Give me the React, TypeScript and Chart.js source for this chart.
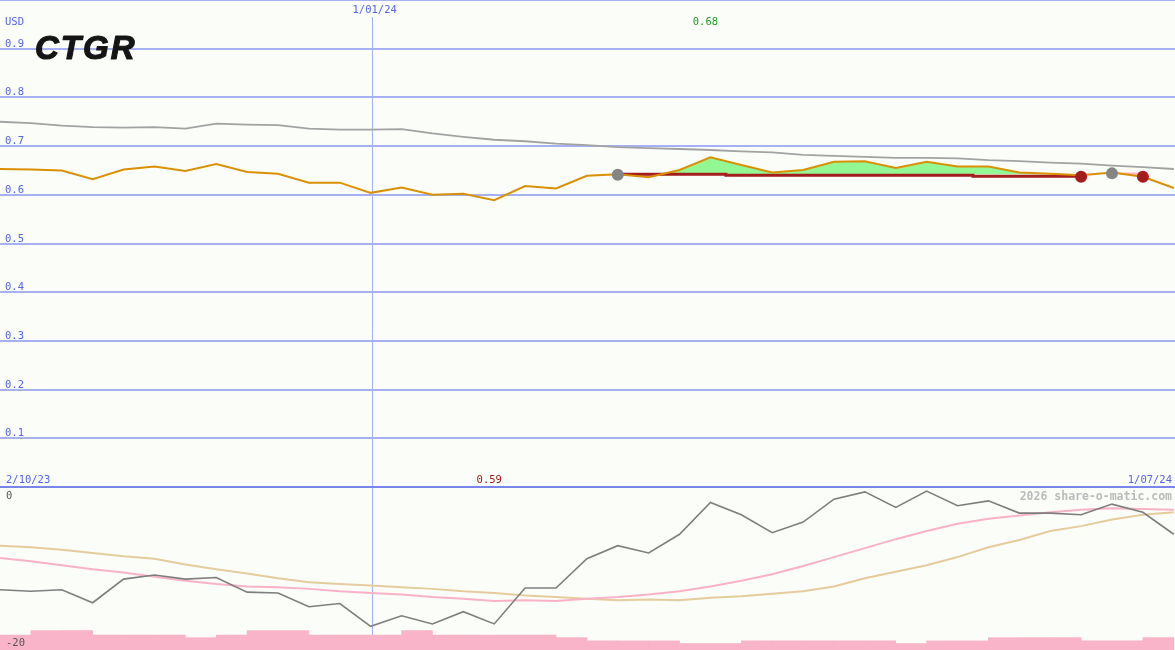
import React, { useEffect, useRef } from "react";
import { Chart, registerables } from "chart.js";

Chart.register(...registerables);

// ---------- data ----------
const price: number[] = [
  0.653, 0.652, 0.65, 0.632, 0.652, 0.658, 0.649, 0.663, 0.647, 0.643,
  0.625, 0.625, 0.604, 0.615, 0.6, 0.602, 0.589, 0.618, 0.613, 0.639,
  0.642, 0.636, 0.651, 0.677, 0.661, 0.646, 0.651, 0.668, 0.669, 0.655,
  0.668, 0.658, 0.658, 0.646, 0.643, 0.64, 0.646, 0.637, 0.614,
];
const priceAverage: number[] = [
  0.75, 0.747, 0.742, 0.739, 0.738, 0.739, 0.736, 0.746, 0.744, 0.743,
  0.736, 0.734, 0.734, 0.735, 0.726, 0.719, 0.713, 0.71, 0.705, 0.702,
  0.698, 0.696, 0.694, 0.692, 0.689, 0.687, 0.682, 0.68, 0.678, 0.676,
  0.676, 0.675, 0.671, 0.669, 0.666, 0.664, 0.66, 0.657, 0.653,
];
// trailing stop (index -> value)
const stopIdx: number[] = [20, 21, 22, 23, 24, 25, 26, 27, 28, 29, 30, 31, 32, 33, 34, 35];
const stopVal: number[] = [0.642, 0.642, 0.642, 0.642, 0.64, 0.64, 0.64, 0.64, 0.64, 0.64, 0.64, 0.64, 0.638, 0.638, 0.638, 0.638];
// trades: entry level held from buy to sell
const tradeStart: number[] = [20, 36];
const tradeEnd: number[] = [35, 37];
const tradeLevel: number[] = [0.642, 0.646];
const buyIdx: number[] = [20, 36];
const buyVal: number[] = [0.641, 0.644];
const sellIdx: number[] = [35, 37];
const sellVal: number[] = [0.637, 0.637];

const oscillator: number[] = [
  -12.6, -12.8, -12.6, -14.2, -11.3, -10.8, -11.3, -11.1, -12.9, -13.0,
  -14.7, -14.3, -17.1, -15.8, -16.8, -15.3, -16.8, -12.4, -12.4, -8.8,
  -7.2, -8.1, -5.8, -1.9, -3.4, -5.6, -4.3, -1.5, -0.6, -2.5,
  -0.5, -2.3, -1.7, -3.2, -3.2, -3.4, -2.1, -3.1, -5.8,
];
const oscFast: number[] = [
  -8.7, -9.1, -9.6, -10.1, -10.5, -11.0, -11.5, -11.9, -12.2, -12.3,
  -12.5, -12.8, -13.0, -13.2, -13.5, -13.7, -14.0, -13.9, -14.0, -13.7,
  -13.5, -13.2, -12.8, -12.2, -11.5, -10.7, -9.7, -8.6, -7.5, -6.4,
  -5.4, -4.5, -3.9, -3.5, -3.1, -2.8, -2.6, -2.7, -2.8,
];
const oscSlow: number[] = [
  -7.2, -7.4, -7.7, -8.1, -8.5, -8.8, -9.5, -10.1, -10.6, -11.2,
  -11.7, -11.9, -12.1, -12.3, -12.5, -12.8, -13.0, -13.3, -13.5, -13.7,
  -13.9, -13.8, -13.9, -13.6, -13.4, -13.1, -12.8, -12.2, -11.2, -10.4,
  -9.6, -8.6, -7.4, -6.5, -5.4, -4.8, -4.0, -3.4, -3.1,
];
const volume: number[] = [
  2.3, 3.0, 3.0, 2.3, 2.3, 2.3, 1.9, 2.3, 3.0, 3.0,
  2.3, 2.3, 2.3, 3.0, 2.3, 2.3, 2.3, 2.3, 1.9, 1.4,
  1.4, 1.4, 1.0, 1.0, 1.4, 1.4, 1.4, 1.4, 1.4, 1.0,
  1.4, 1.4, 1.9, 1.9, 1.9, 1.4, 1.4, 1.9,
];

const priceTickValues: number[] = [0.1, 0.2, 0.3, 0.4, 0.5, 0.6, 0.7, 0.8, 0.9];
const priceTickLabels: string[] = ["0.1", "0.2", "0.3", "0.4", "0.5", "0.6", "0.7", "0.8", "0.9"];
const priceTop = 1.0;
const oscTop = 0;
const oscBottom = -20;
const oscTopLabel = "0";
const oscBottomLabel = "-20";
const startDate = "2/10/23";
const endDate = "1/07/24";
const markerIdx = 12;
const markerLabel = "1/01/24";
const currency = "USD";
const ticker = "CTGR";
const watermark = "2026 share-o-matic.com";

// ---------- style ----------
const BG = "#fbfdf9";
const GRID = "#a6b1f1";
const SEP = "#7886ec";
const BLUE_TEXT = "#5563e6";
const MONO = '"DejaVu Sans Mono", monospace';

const toPts = (arr: (number | null)[]) => arr.map((v, i) => ({ x: i, y: v }));

export default function App() {
  const ref = useRef<HTMLCanvasElement | null>(null);

  useEffect(() => {
    if (!ref.current) return;

    const stopData = price.map((_, i) => {
      const k = stopIdx.indexOf(i);
      return { x: i, y: k >= 0 ? stopVal[k] : null };
    });
    const tradeData = tradeStart.map((s, t) =>
      price.map((_, i) => ({ x: i, y: i >= s && i <= tradeEnd[t] ? tradeLevel[t] : null }))
    );
    const volData = volume.map((v, i) => ({ x: i + 0.5, y: v }));

    let maxI = 0, minI = 0;
    price.forEach((v, i) => {
      if (v > price[maxI]) maxI = i;
      if (v < price[minI]) minI = i;
    });

    const plugin = {
      id: "panels",
      beforeDraw(chart: any) {
        const { ctx, width, height } = chart;
        ctx.save();
        ctx.fillStyle = BG;
        ctx.fillRect(0, 0, width, height);
        ctx.restore();
      },
      beforeDatasetsDraw(chart: any) {
        const { ctx, chartArea } = chart;
        const xs = chart.scales.x;
        const yp = chart.scales.yPrice;
        ctx.save();
        ctx.strokeStyle = GRID;
        ctx.lineWidth = 2;
        [...priceTickValues, priceTop].forEach((v) => {
          const y = Math.round(yp.getPixelForValue(v));
          ctx.beginPath();
          ctx.moveTo(chartArea.left, y);
          ctx.lineTo(chartArea.right, y);
          ctx.stroke();
        });
        // marker vertical line
        const mx = Math.round(xs.getPixelForValue(markerIdx)) + 1.5;
        ctx.lineWidth = 1;
        ctx.strokeStyle = "#a3aff5";
        ctx.beginPath();
        ctx.moveTo(mx, 17);
        ctx.lineTo(mx, chartArea.bottom);
        ctx.stroke();
        // separator
        const sy = Math.round(yp.getPixelForValue(0));
        ctx.strokeStyle = SEP;
        ctx.lineWidth = 2;
        ctx.beginPath();
        ctx.moveTo(chartArea.left, sy);
        ctx.lineTo(chartArea.right, sy);
        ctx.stroke();
        ctx.restore();
      },
      afterDatasetsDraw(chart: any) {
        const { ctx, chartArea } = chart;
        const xs = chart.scales.x;
        const yp = chart.scales.yPrice;
        const yo = chart.scales.yOsc;
        const sepY = yp.getPixelForValue(0);
        ctx.save();
        ctx.textBaseline = "alphabetic";
        ctx.font = `10.5px ${MONO}`;
        ctx.fillStyle = BLUE_TEXT;
        ctx.textAlign = "left";
        ctx.fillText(currency, 5, 25);
        priceTickValues.forEach((v, i) => {
          ctx.fillText(priceTickLabels[i], 5, yp.getPixelForValue(v) - 2);
        });
        ctx.fillText(startDate, 6, sepY - 4);
        ctx.textAlign = "right";
        ctx.fillText(endDate, chartArea.right - 3, sepY - 4);
        ctx.textAlign = "center";
        ctx.fillText(markerLabel, xs.getPixelForValue(markerIdx) + 4, 13);
        // max / min
        ctx.fillStyle = "#259a25";
        ctx.fillText(price[maxI].toFixed(2), xs.getPixelForValue(maxI) - 5, 25);
        ctx.fillStyle = "#a01818";
        ctx.fillText(price[minI].toFixed(2), xs.getPixelForValue(minI) - 5, sepY - 4);
        // oscillator labels
        ctx.textAlign = "left";
        ctx.fillStyle = "#555555";
        ctx.fillText(oscTopLabel, 6, yo.getPixelForValue(oscTop) + 12);
        ctx.fillText(oscBottomLabel, 6, yo.getPixelForValue(oscBottom) - 4);
        // watermark
        ctx.font = `bold 11.5px ${MONO}`;
        ctx.fillStyle = "#bbbbbb";
        ctx.textAlign = "right";
        ctx.fillText(watermark, chartArea.right - 3, sepY + 13);
        // ticker logo
        ctx.font = 'italic bold 33px "Liberation Sans", Arial, sans-serif';
        (ctx as any).letterSpacing = "2px";
        ctx.fillStyle = "#151515";
        ctx.strokeStyle = "#151515";
        ctx.lineWidth = 1.2;
        ctx.lineJoin = "round";
        ctx.textAlign = "left";
        ctx.fillText(ticker, 35, 59);
        ctx.strokeText(ticker, 35, 59);
        ctx.restore();
      },
    };

    const chart = new Chart(ref.current, {
      type: "line",
      data: {
        datasets: [
          {
            label: "buy",
            data: buyIdx.map((i, k) => ({ x: i, y: buyVal[k] })),
            showLine: false,
            pointRadius: 6,
            pointBackgroundColor: "#858585",
            pointBorderWidth: 0,
            borderColor: "transparent",
            yAxisID: "yPrice",
          },
          {
            label: "sell",
            data: sellIdx.map((i, k) => ({ x: i, y: sellVal[k] })),
            showLine: false,
            pointRadius: 6,
            pointBackgroundColor: "#a51c1c",
            pointBorderWidth: 0,
            borderColor: "transparent",
            yAxisID: "yPrice",
          },
          {
            label: "price",
            data: toPts(price),
            borderColor: "#da9005",
            borderWidth: 2,
            pointRadius: 0,
            fill: false,
            yAxisID: "yPrice",
          },
          {
            label: "stop",
            data: stopData,
            borderColor: "#a51c1c",
            borderWidth: 3,
            pointRadius: 0,
            stepped: "middle",
            fill: false,
            yAxisID: "yPrice",
          },
          ...tradeData.map((d, t) => ({
            label: "trade" + t,
            data: d,
            borderColor: "transparent",
            borderWidth: 1,
            pointRadius: 0,
            fill: { target: 2, above: "#f9b8c8", below: "#93f893" },
            yAxisID: "yPrice",
          })),
          {
            label: "avg",
            data: toPts(priceAverage),
            borderColor: "#a2a2a2",
            borderWidth: 1.8,
            pointRadius: 0,
            fill: false,
            yAxisID: "yPrice",
          },
          {
            label: "osc",
            data: toPts(oscillator),
            borderColor: "#7e7e7e",
            borderWidth: 1.6,
            pointRadius: 0,
            fill: false,
            yAxisID: "yOsc",
          },
          {
            label: "oscFast",
            data: toPts(oscFast),
            borderColor: "#f8b2c8",
            borderWidth: 2,
            pointRadius: 0,
            fill: false,
            yAxisID: "yOsc",
          },
          {
            label: "oscSlow",
            data: toPts(oscSlow),
            borderColor: "#e4cc9c",
            borderWidth: 2,
            pointRadius: 0,
            fill: false,
            yAxisID: "yOsc",
          },
          {
            type: "bar",
            label: "volume",
            data: volData,
            backgroundColor: "#f9b4c9",
            borderWidth: 0,
            barPercentage: 1,
            categoryPercentage: 1,
            yAxisID: "yVol",
          } as any,
        ],
      },
      options: {
        responsive: false,
        devicePixelRatio: 1,
        animation: false,
        events: [],
        layout: { padding: 0, autoPadding: false },
        plugins: {
          legend: { display: false },
          tooltip: { enabled: false },
        },
        scales: {
          x: { type: "linear", min: 0, max: 38.04, display: false, offset: false },
          yPrice: { type: "linear", min: -0.3347, max: 1.0, display: false },
          yOsc: { type: "linear", min: -20, max: 59.755, display: false },
          yVol: { type: "linear", min: 0, max: 100, display: false },
        },
      },
      plugins: [plugin],
    } as any);

    return () => chart.destroy();
  }, []);

  return (
    <div style={{ position: "fixed", left: 0, top: 0, width: 1175, height: 650, background: BG }}>
      <canvas ref={ref} width={1175} height={650} style={{ display: "block", width: 1175, height: 650 }} />
    </div>
  );
}
